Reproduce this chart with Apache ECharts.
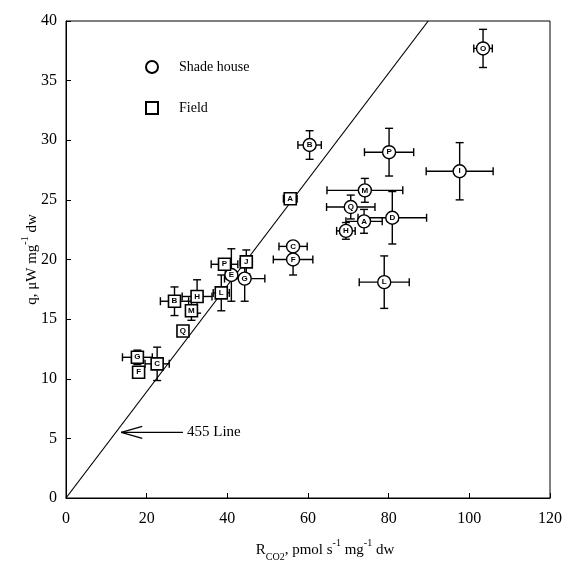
<!DOCTYPE html>
<html>
<head>
<meta charset="utf-8">
<script src="https://cdn.jsdelivr.net/npm/echarts@6/dist/echarts.min.js"></script>
<style>html,body{margin:0;padding:0;background:#fff}#c{width:565px;height:567px}</style>
</head>
<body>
<div id="c"></div>
<script>
// Shade house (circles)
var shadeLabels = ['O','I','P','B','M','Q','D','A','H','L','C','F','G','E'];
var shadeX      = [103.4, 97.6, 80.1, 60.4, 74.1, 70.6, 80.9, 73.9, 69.4, 78.9, 56.3, 56.3, 44.3, 41.0];
var shadeY      = [37.7, 27.4, 29.0, 29.6, 25.8, 24.4, 23.5, 23.2, 22.4, 18.1, 21.1, 20.0, 18.4, 18.7];
var shadeXErr   = [2.3, 8.3, 6.1, 2.9, 9.4, 6.0, 8.5, 4.5, 2.3, 6.2, 3.5, 4.9, 5.0, 1.5];
var shadeYErr   = [1.6, 2.4, 2.0, 1.2, 1.0, 1.0, 2.2, 1.0, 0.7, 2.2, 0.3, 1.3, 1.9, 2.2];
// Field (squares)
var fieldLabels = ['A','B','H','M','L','P','J','C','G','F','Q'];
var fieldX      = [55.6, 26.9, 32.5, 31.1, 38.5, 39.3, 44.7, 22.6, 17.7, 18.0, 29.0];
var fieldY      = [25.1, 16.5, 16.9, 15.7, 17.2, 19.6, 19.8, 11.25, 11.8, 10.55, 14.0];
var fieldXErr   = [1.7, 3.5, 3.7, 1.0, 2.0, 3.3, 1.5, 3.0, 3.7, 0, 0];
var fieldYErr   = [0.3, 1.2, 1.4, 0.8, 1.5, 0.4, 1.0, 1.4, 0.6, 0, 0];
// 455 line and annotation
var line455 = [[0, 0], [89.8, 40]];
var arrow455 = [[29.0, 5.5, 13.7]]; // tail x, y, tip x
var xTicks = [0, 20, 40, 60, 80, 100, 120];
var yTicks = [0, 5, 10, 15, 20, 25, 30, 35, 40];

function pts(xs, ys, xe, ye, lb) {
  return xs.map(function (x, i) { return [x, ys[i], xe[i], ye[i], lb[i]]; });
}
var shadeData = pts(shadeX, shadeY, shadeXErr, shadeYErr, shadeLabels);
var fieldData = pts(fieldX, fieldY, fieldXErr, fieldYErr, fieldLabels);

function errRender(params, api) {
  var x = api.value(0), y = api.value(1), xe = api.value(2), ye = api.value(3);
  var c = api.coord([x, y]);
  var st = { stroke: '#000', lineWidth: 1.4 };
  var ch = [];
  var cap = 4;
  if (xe > 0) {
    var l = api.coord([x - xe, y]), r = api.coord([x + xe, y]);
    ch.push({ type: 'line', shape: { x1: l[0], y1: c[1], x2: r[0], y2: c[1] }, style: st });
    ch.push({ type: 'line', shape: { x1: l[0], y1: c[1] - cap, x2: l[0], y2: c[1] + cap }, style: st });
    ch.push({ type: 'line', shape: { x1: r[0], y1: c[1] - cap, x2: r[0], y2: c[1] + cap }, style: st });
  }
  if (ye > 0) {
    var t = api.coord([x, y + ye]), b = api.coord([x, y - ye]);
    ch.push({ type: 'line', shape: { x1: c[0], y1: t[1], x2: c[0], y2: b[1] }, style: st });
    ch.push({ type: 'line', shape: { x1: c[0] - cap, y1: t[1], x2: c[0] + cap, y2: t[1] }, style: st });
    ch.push({ type: 'line', shape: { x1: c[0] - cap, y1: b[1], x2: c[0] + cap, y2: b[1] }, style: st });
  }
  return { type: 'group', children: ch };
}

function arrowRender(params, api) {
  var tail = api.coord([api.value(0), api.value(1)]);
  var tip = api.coord([api.value(2), api.value(1)]);
  var st = { stroke: '#000', lineWidth: 1.2 };
  return { type: 'group', children: [
    { type: 'line', shape: { x1: tail[0], y1: tail[1], x2: tip[0], y2: tip[1] }, style: st },
    { type: 'line', shape: { x1: tip[0], y1: tip[1], x2: tip[0] + 21, y2: tip[1] - 6 }, style: st },
    { type: 'line', shape: { x1: tip[0], y1: tip[1], x2: tip[0] + 21, y2: tip[1] + 6 }, style: st },
    { type: 'text', style: { x: tail[0] + 4, y: tail[1], text: '455 Line', fill: '#000',
      font: '15px "Liberation Serif"', verticalAlign: 'middle', align: 'left' } }
  ]};
}

var serif = '"Liberation Serif", "DejaVu Serif", serif';
var labelCommon = { show: true, formatter: function (p) { return p.value[4]; },
  position: 'inside', color: '#000', fontSize: 8, fontWeight: 'bold', fontFamily: 'Liberation Sans' };

var chart = echarts.init(document.getElementById('c'));
chart.setOption({
  animation: false,
  backgroundColor: '#fff',
  grid: { left: 66, right: 15, top: 21, bottom: 66, show: true, borderColor: '#000', borderWidth: 1 },
  legend: {
    left: 140, top: 55, orient: 'vertical', itemGap: 27, itemWidth: 12, itemHeight: 12,
    data: [{ name: 'Shade house', icon: 'circle' }, { name: 'Field', icon: 'rect' }],
    textStyle: { fontFamily: serif, fontSize: 14, color: '#000', padding: [0, 0, 0, 16] }
  },
  xAxis: {
    type: 'value', min: 0, max: 120, interval: 20,
    axisLine: { lineStyle: { color: '#000', width: 1 } },
    axisTick: { inside: true, length: 5, lineStyle: { color: '#000' } },
    splitLine: { show: false },
    axisLabel: { fontFamily: serif, fontSize: 16, color: '#000', margin: 13,
      formatter: function (v) { return xTicks.indexOf(v) >= 0 ? String(v) : ''; } },
    name: '{n|R}{sub|CO2}{n|, pmol s}{sup|-1}{n| mg}{sup|-1}{n| dw}',
    nameLocation: 'middle', nameGap: 40, nameMoveOverlap: false,
    nameTextStyle: { padding: [0, 0, 0, 34], rich: {
      n: { fontFamily: serif, fontSize: 15, color: '#000', lineHeight: 20, verticalAlign: 'bottom' },
      sub: { fontFamily: serif, fontSize: 10, color: '#000', lineHeight: 20, verticalAlign: 'bottom', padding: [0, 0, -4, 0] },
      sup: { fontFamily: serif, fontSize: 10, color: '#000', lineHeight: 20, verticalAlign: 'top', padding: [0, 0, 0, 0] }
    } }
  },
  yAxis: {
    type: 'value', min: 0, max: 40, interval: 5,
    axisLine: { lineStyle: { color: '#000', width: 1 } },
    axisTick: { inside: true, length: 5, lineStyle: { color: '#000' } },
    splitLine: { show: false },
    axisLabel: { fontFamily: serif, fontSize: 16, color: '#000', margin: 9,
      formatter: function (v) { return yTicks.indexOf(v) >= 0 ? String(v) : ''; } },
    name: '{n|q, \u03bcW mg}{sup|-1}{n| dw}',
    nameLocation: 'middle', nameGap: 26, nameRotate: 90, nameMoveOverlap: false,
    nameTextStyle: { rich: {
      n: { fontFamily: serif, fontSize: 15, color: '#000', lineHeight: 20, verticalAlign: 'bottom' },
      sup: { fontFamily: serif, fontSize: 10, color: '#000', lineHeight: 20, verticalAlign: 'top' }
    } }
  },
  series: [
    { type: 'line', data: line455, showSymbol: false, silent: true,
      lineStyle: { color: '#000', width: 1.2 }, z: 1 },
    { type: 'custom', data: arrow455, renderItem: arrowRender, silent: true, z: 1 },
    { type: 'custom', data: shadeData, renderItem: errRender, silent: true, z: 2 },
    { type: 'custom', data: fieldData, renderItem: errRender, silent: true, z: 2 },
    { name: 'Shade house', type: 'scatter', data: shadeData, symbol: 'circle', symbolSize: 13, z: 3,
      itemStyle: { color: '#fff', borderColor: '#000', borderWidth: 1.4, opacity: 1 }, label: labelCommon },
    { name: 'Field', type: 'scatter', data: fieldData, symbol: 'rect', symbolSize: 12, z: 3,
      itemStyle: { color: '#fff', borderColor: '#000', borderWidth: 1.6, opacity: 1 }, label: labelCommon }
  ]
});
</script>
</body>
</html>
